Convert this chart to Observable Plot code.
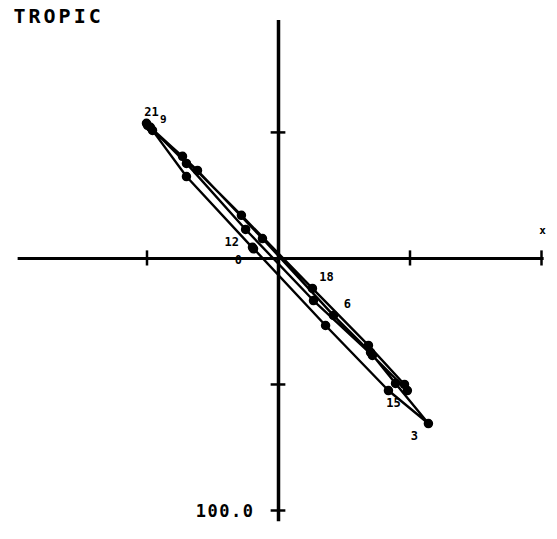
<!DOCTYPE html>
<html>
<head>
<meta charset="utf-8">
<script src="https://cdn.jsdelivr.net/npm/d3@7"></script>
<script src="https://cdn.jsdelivr.net/npm/@observablehq/plot@0.6"></script>
<style>
  html, body { margin: 0; padding: 0; background: #fff; }
  #chart svg { display: block; }
  .title-text text { letter-spacing: 3px; }
  .scale-text text { letter-spacing: 1.5px; }
</style>
</head>
<body>
<div id="chart"></div>
<script>
// Hourly current components (arbitrary units, scale bar = 100.0)
const hours = [0,1,2,3,4,5,6,7,8,9,10,11,12,13,14,15,16,17,18,19,20,21,22,23,24];
const east  = [-9.9,17.9,41.8,57.0,44.5,35.0,20.9,-6.1,-30.8,-48.7,-50.2,-35.0,-12.5,13.3,35.7,49.0,47.9,34.2,12.9,-14.1,-36.5,-49.8,-47.9,-35.0,-9.5];
const north = [4.4,-26.6,-52.4,-65.5,-49.6,-37.3,-22.6,7.9,34.9,52.0,53.6,37.7,11.5,-16.7,-38.5,-52.4,-50.0,-34.5,-11.9,17.1,40.5,52.8,50.8,32.5,3.8];
const labeledHours = [0,3,6,9,12,15,18,21];
const xTicks = [-50, 50, 100];
const yTicks = [50, -50, -100];
const title = "TROPIC";
const scaleLabel = "100.0";
const axisLabel = "x";

const data = hours.map((h, i) => ({hour: h, x: east[i], y: north[i]}));
const labels = data.filter(d => labeledHours.includes(d.hour));
const lowerLeft = labels.filter(d => [0,3,12,15].includes(d.hour));
const upperRight = labels.filter(d => [6,18].includes(d.hour));
const nine = labels.filter(d => d.hour === 9);
const twentyOne = labels.filter(d => d.hour === 21);

const font = "'DejaVu Sans Mono', monospace";
const lab = {text: d => String(d.hour), fontSize: 12, fontWeight: "bold", fontFamily: font, fill: "black"};

const chart = Plot.plot({
  width: 557,
  height: 539,
  marginLeft: 15,
  marginRight: 16,
  marginTop: 20,
  marginBottom: 29,
  x: {domain: [-100, 100], axis: null},
  y: {domain: [-100, 94.4], axis: null},
  style: {background: "white"},
  marks: [
    Plot.ruleY([0], {x1: -99, x2: 101, stroke: "black", strokeWidth: 3}),
    Plot.ruleX([0], {y1: -104.5, y2: 94.4, stroke: "black", strokeWidth: 3.5}),
    Plot.ruleX(xTicks, {y1: -3, y2: 3, stroke: "black", strokeWidth: 2.5}),
    Plot.ruleY(yTicks, {x1: -2.8, x2: 2.8, stroke: "black", strokeWidth: 2.5}),
    Plot.line(data, {x: "x", y: "y", stroke: "black", strokeWidth: 2.4}),
    Plot.dot(data, {x: "x", y: "y", r: 4, fill: "black", stroke: "black"}),
    Plot.text(lowerLeft, {x: "x", y: "y", dx: -14, dy: 13, ...lab}),
    Plot.text(upperRight, {x: "x", y: "y", dx: 14, dy: -11, ...lab}),
    Plot.text(nine, {x: "x", y: "y", dx: 13, dy: -8, ...lab, fontSize: 11}),
    Plot.text(twentyOne, {x: "x", y: "y", dx: 4, dy: -13, ...lab}),
    Plot.text([scaleLabel], {x: 0, y: -100, text: d => d, textAnchor: "end", dx: -24, dy: 1, fontSize: 17, fontWeight: "bold", fontFamily: font, fill: "black", className: "scale-text"}),
    Plot.text([axisLabel], {x: 100, y: 0, text: d => d, dx: 1, dy: -28, fontSize: 11, fontWeight: "bold", fontFamily: font, fill: "black"}),
    Plot.text([title], {frameAnchor: "top-left", text: d => d, textAnchor: "start", lineAnchor: "bottom", dx: -2, dy: 2, fontSize: 20, fontWeight: "bold", fontFamily: font, fill: "black", className: "title-text"})
  ]
});
document.getElementById("chart").appendChild(chart);
</script>
</body>
</html>
